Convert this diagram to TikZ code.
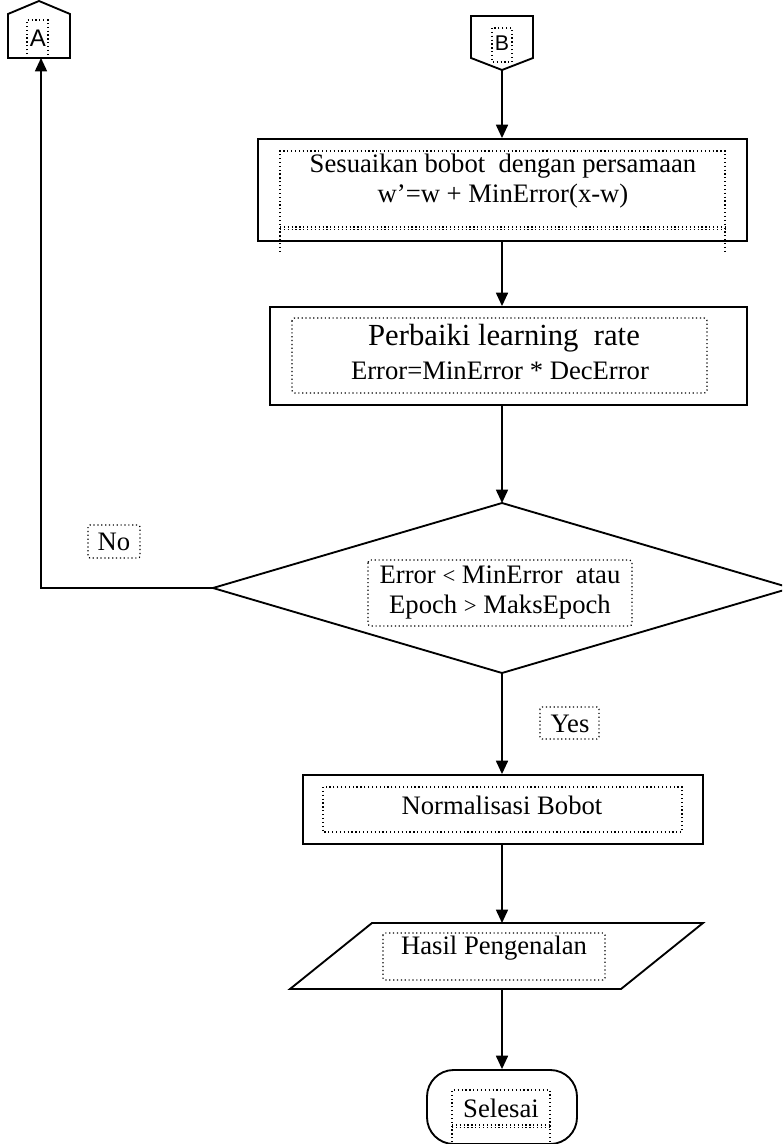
\documentclass[tikz,border=0pt]{standalone}
\usepackage{fontspec}
\setmainfont{Liberation Serif}
\newfontfamily\connfont{Liberation Sans}
\usetikzlibrary{arrows.meta}

\begin{document}
\begin{tikzpicture}[x=0.75pt,y=-0.75pt,
  outline/.style={draw=black, line width=1.4pt},
  frame/.style={draw=black, dotted, line width=0.9pt},
  flow/.style={draw=black, line width=1.2pt, -{Triangle[length=10pt,width=9pt]}},
  txt/.style={font=\fontsize{20}{22.5}\selectfont, align=center, inner sep=0pt},
  conntxt/.style={font=\connfont\fontsize{18}{20}\selectfont, inner sep=0pt},
  procbox/.style={outline, inner sep=0pt},
]
\useasboundingbox (0,0) rectangle (782,1144);
\clip (0,0) rectangle (782,1144);

% ---- off-page connector A (loop target) ----
\draw[outline] (8,58) -- (8,14) -- (39,1) -- (70,14) -- (70,58) -- cycle;
\coordinate (Ain) at (41,58);
\draw[frame] (27,58) -- (27,20) -- (48,20) -- (48,58);
\node[conntxt] (Alab) at (38,38) {A};

% ---- off-page connector B (entry) ----
\draw[outline] (471,16) -- (533,16) -- (533,58) -- (502,70) -- (471,58) -- cycle;
\coordinate (Bout) at (502,70);
\draw[frame] (492,28) rectangle (512,62);
\node[conntxt, font=\connfont\fontsize{16}{18}\selectfont] (Blab) at (502,43) {B};

% ---- weight update ----
\node[procbox, minimum width=489*0.75pt, minimum height=102*0.75pt] (upd) at (502.5,190) {};
\draw[frame] (280,252) -- (280,151) -- (725,151) -- (725,252);
\draw[frame] (280,227) -- (725,227);
\draw[frame] (280,229.5) -- (725,229.5);
\node[txt] (updtxt) at (503,181) {Sesuaikan bobot\ \ dengan persamaan\\w’=w + MinError(x-w)};

% ---- learning rate ----
\node[procbox, minimum width=477*0.75pt, minimum height=98*0.75pt] (rate) at (508.5,356) {};
\draw[frame, rounded corners=2pt] (292,318) rectangle (707,393);
\node[txt, font=\fontsize{23}{26}\selectfont] (ratetxt) at (504,338) {Perbaiki learning\ \ rate};
\node[txt] (ratefml) at (500,371) {Error=MinError * DecError};

% ---- stop condition ----
\coordinate (dtop) at (502,503);
\coordinate (dright) at (791,588);
\coordinate (dbot) at (502,673);
\coordinate (dleft) at (213,588);
\draw[outline] (dtop) -- (dright) -- (dbot) -- (dleft) -- cycle;
\draw[frame, rounded corners=2pt] (368,560) rectangle (632,626);
\node[txt] (cond) at (500,593) {Error {\fontsize{17}{20}\selectfont<} MinError\ \ atau\\Epoch {\fontsize{17}{20}\selectfont>} MaksEpoch};

% ---- branch labels ----
\draw[frame, rounded corners=1.5pt] (88,525) rectangle (140,558);
\node[txt] (no) at (114,542) {No};
\draw[frame, rounded corners=1.5pt] (540,707) rectangle (599,739);
\node[txt] (yes) at (570,724) {Yes};

% ---- normalisation ----
\node[procbox, minimum width=400*0.75pt, minimum height=69*0.75pt] (norm) at (503,809.5) {};
\draw[frame] (323,787) rectangle (682,832);
\node[txt] (normtxt) at (502,805) {Normalisasi Bobot};

% ---- output ----
\coordinate (iotl) at (372,923);
\coordinate (iotr) at (703,923);
\coordinate (iobr) at (621,989);
\coordinate (iobl) at (290,989);
\draw[outline] (iotl) -- (iotr) -- (iobr) -- (iobl) -- cycle;
\coordinate (iotop) at (502,923);
\coordinate (iobot) at (502,989);
\draw[frame, rounded corners=1.5pt] (383,933) rectangle (605,980);
\node[txt] (iotxt) at (494,948) {Hasil Pengenalan};

% ---- terminator ----
\node[procbox, rounded corners=20pt, minimum width=150*0.75pt, minimum height=74*0.75pt] (fin) at (502,1107) {};
\draw[frame] (452,1150) -- (452,1090) -- (550,1090) -- (550,1150);
\draw[frame] (452,1125) -- (550,1125);
\draw[frame] (452,1127.5) -- (550,1127.5);
\node[txt] (fintxt) at (501,1108) {Selesai};

% ---- flow lines ----
\draw[flow] (Bout) -- (upd.north -| Bout);
\draw[flow] (upd.south -| Bout) -- (rate.north -| Bout);
\draw[flow] (rate.south -| Bout) -- (dtop);
\draw[flow] (dbot) -- (norm.north -| Bout);
\draw[flow] (norm.south -| Bout) -- (iotop);
\draw[flow] (iobot) -- (fin.north -| Bout);
\draw[flow] (dleft) -- (41,588) -- (Ain);
\end{tikzpicture}
\end{document}
